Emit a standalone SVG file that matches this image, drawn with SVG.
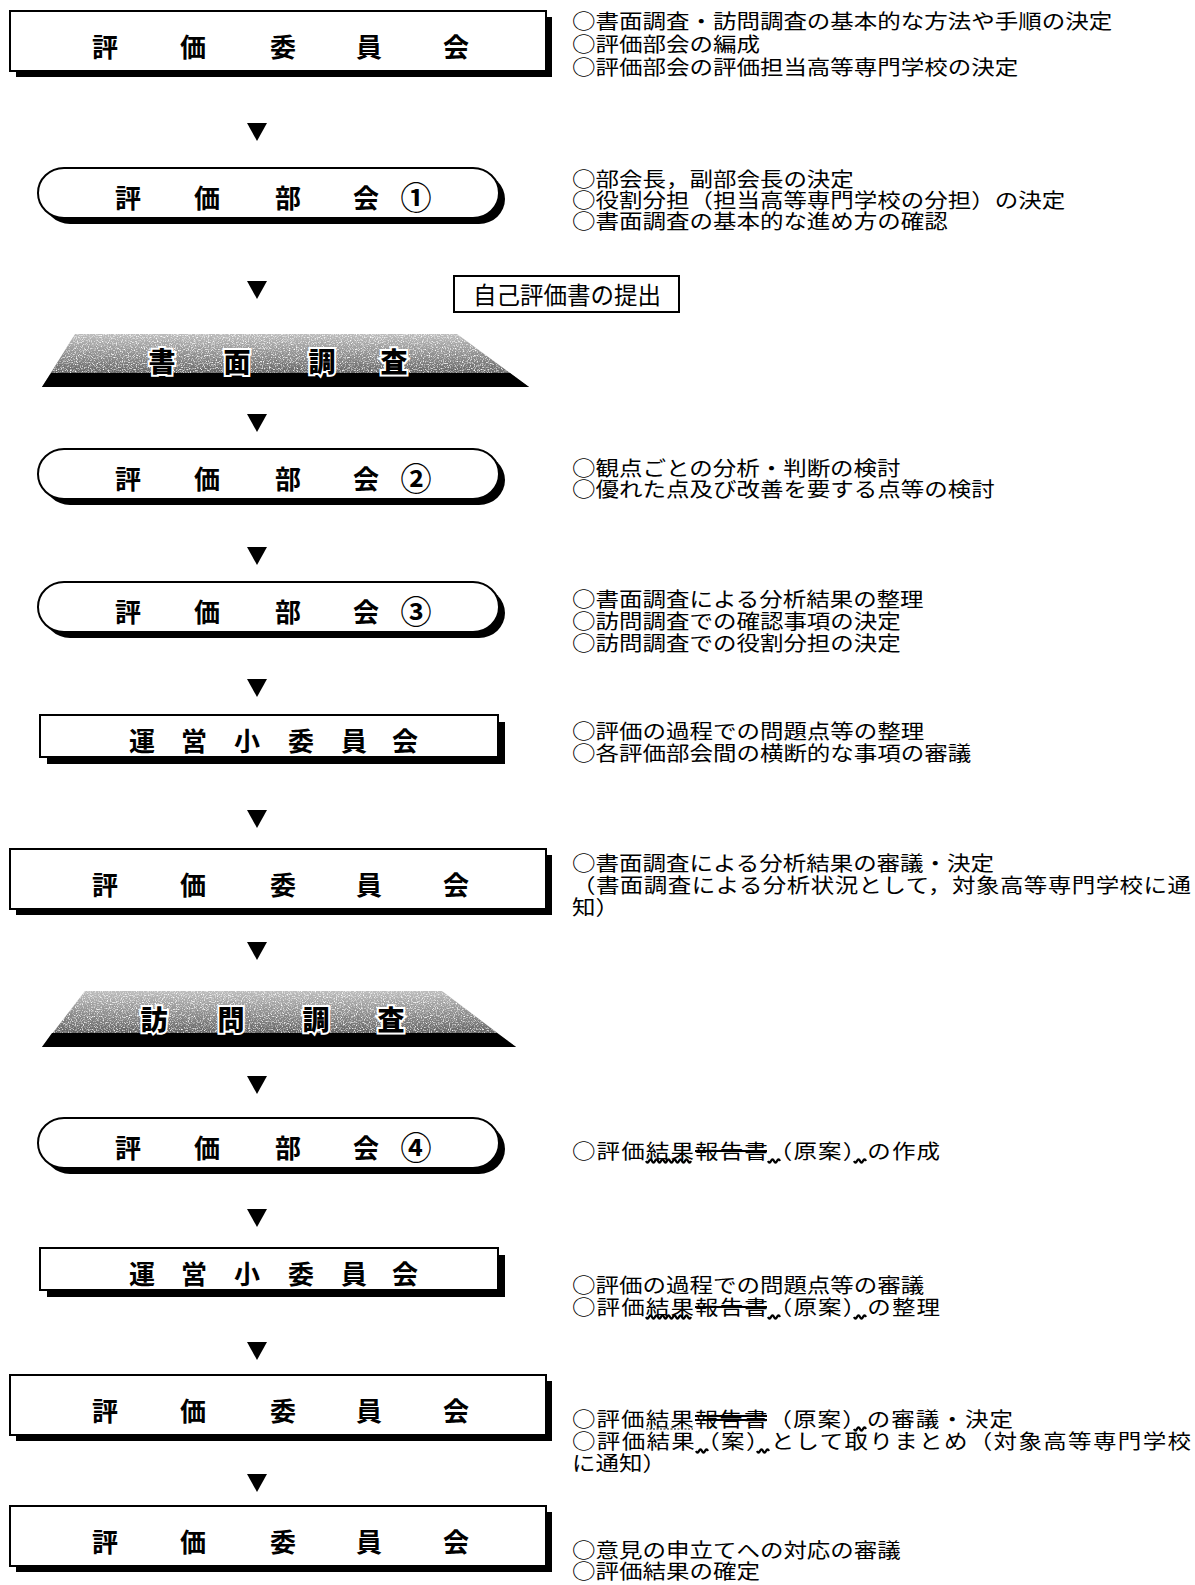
<svg xmlns="http://www.w3.org/2000/svg" width="1195" height="1585" viewBox="0 0 1195 1585">
<defs>
<linearGradient id="bannerGrad" x1="0" y1="0" x2="0" y2="1">
<stop offset="0" stop-color="#bdbdbd"/>
<stop offset="0.6" stop-color="#787878"/>
<stop offset="1" stop-color="#3c3c3c"/>
</linearGradient>
<filter id="speckle" x="0" y="0" width="1" height="1">
<feTurbulence type="fractalNoise" baseFrequency="0.85" numOctaves="2" seed="5" result="noise"/>
<feColorMatrix in="noise" type="matrix" values="0 0 0 0 1 0 0 0 0 1 0 0 0 0 1 3 0 0 0 -1.45" result="dots"/>
<feComposite in="dots" in2="SourceAlpha" operator="in"/>
</filter>
<polygon id="tri" points="-10,-9 10,-9 0,9"/>
</defs>
<style>
.box{fill:#fff;stroke:#000;stroke-width:2}
.shadow{fill:#000}
.lbl{font-family:"Noto Sans CJK JP","Noto Sans CJK SC",sans-serif;font-weight:700;font-size:26px;text-anchor:middle;dominant-baseline:central;fill:#000}
.num{font-size:31px;font-weight:700}
.note{font-family:"Noto Sans CJK JP","Noto Sans CJK SC",sans-serif;font-size:23.5px;dominant-baseline:central;fill:#000}
.ban{font-family:"Noto Sans CJK JP","Noto Sans CJK SC",sans-serif;font-weight:900;font-size:27px;text-anchor:middle;dominant-baseline:central;fill:#000;stroke:#fff;stroke-width:4;paint-order:stroke}
.wave{fill:none;stroke:#000;stroke-width:2.2}
.strike{stroke:#000;stroke-width:2}
.uline{stroke:#000;stroke-width:1.2;stroke-dasharray:2 1.5}
.arrow{fill:#000}
.band{fill:#000}
</style>
<rect width="1195" height="1585" fill="#fff"/>

<g id="connectors">
<use href="#tri" class="arrow" x="257" y="132"/>
<use href="#tri" class="arrow" x="257" y="290"/>
<use href="#tri" class="arrow" x="257" y="423"/>
<use href="#tri" class="arrow" x="257" y="556"/>
<use href="#tri" class="arrow" x="257" y="688"/>
<use href="#tri" class="arrow" x="257" y="819"/>
<use href="#tri" class="arrow" x="257" y="951"/>
<use href="#tri" class="arrow" x="257" y="1085"/>
<use href="#tri" class="arrow" x="257" y="1218"/>
<use href="#tri" class="arrow" x="257" y="1351"/>
<use href="#tri" class="arrow" x="257" y="1483"/>
</g>

<g id="n1-hyoka-iinkai">
<rect class="shadow" x="16" y="17" width="536" height="60"/>
<rect class="box" x="10" y="11" width="536" height="60"/>
<text class="lbl" x="105 193 283 369 456" y="45">評価委員会</text>
</g>
<g id="n1-notes">
<text class="note" transform="scale(1,0.85)"><tspan x="572" y="23.53">○書面調査・訪問調査の基本的な方法や手順の決定</tspan><tspan x="572" y="50.59">○評価部会の編成</tspan><tspan x="572" y="77.65">○評価部会の評価担当高等専門学校の決定</tspan></text>
</g>

<g id="n2-bukai-1">
<rect class="shadow" x="44" y="174" width="461" height="50" rx="26" ry="25"/>
<rect class="box" x="38" y="168" width="461" height="50" rx="26" ry="25"/>
<text class="lbl" x="128 207 288 366" y="196">評価部会<tspan class="num" x="416" y="195">①</tspan></text>
</g>
<g id="n2-notes">
<text class="note" transform="scale(1,0.85)"><tspan x="572" y="209.41">○部会長，副部会長の決定</tspan><tspan x="572" y="234.12">○役割分担（担当高等専門学校の分担）の決定</tspan><tspan x="572" y="258.82">○書面調査の基本的な進め方の確認</tspan></text>
</g>

<g id="n-jiko-hyokasho">
<rect class="box" x="454" y="276" width="225" height="36"/>
<text class="note" x="567" y="294" text-anchor="middle">自己評価書の提出</text>
</g>

<g id="n3-shomen-chosa">
<polygon points="75,334 457,334 529,387 42,387" fill="url(#bannerGrad)"/>
<polygon points="75,334 457,334 529,387 42,387" fill="#000" filter="url(#speckle)"/>
<polygon class="band" points="51,373 510,373 529,387 42,387"/>
<text class="ban" x="162 237 322 394" y="360">書面調査</text>
</g>

<g id="n4-bukai-2">
<rect class="shadow" x="44" y="455" width="461" height="50" rx="26" ry="25"/>
<rect class="box" x="38" y="449" width="461" height="50" rx="26" ry="25"/>
<text class="lbl" x="128 207 288 366" y="477">評価部会<tspan class="num" x="416" y="476">②</tspan></text>
</g>
<g id="n4-notes">
<text class="note" transform="scale(1,0.85)"><tspan x="572" y="549.41">○観点ごとの分析・判断の検討</tspan><tspan x="572" y="574.12">○優れた点及び改善を要する点等の検討</tspan></text>
</g>

<g id="n5-bukai-3">
<rect class="shadow" x="44" y="588" width="461" height="50" rx="26" ry="25"/>
<rect class="box" x="38" y="582" width="461" height="50" rx="26" ry="25"/>
<text class="lbl" x="128 207 288 366" y="610">評価部会<tspan class="num" x="416" y="609">③</tspan></text>
</g>
<g id="n5-notes">
<text class="note" transform="scale(1,0.85)"><tspan x="572" y="703.53">○書面調査による分析結果の整理</tspan><tspan x="572" y="729.41">○訪問調査での確認事項の決定</tspan><tspan x="572" y="755.29">○訪問調査での役割分担の決定</tspan></text>
</g>

<g id="n6-unei-1">
<rect class="shadow" x="47" y="722" width="458" height="42"/>
<rect class="box" x="40" y="715" width="458" height="42"/>
<text class="lbl" x="142 194 247 301 354 405" y="739">運営小委員会</text>
</g>
<g id="n6-notes">
<text class="note" transform="scale(1,0.85)"><tspan x="572" y="858.82">○評価の過程での問題点等の整理</tspan><tspan x="572" y="884.71">○各評価部会間の横断的な事項の審議</tspan></text>
</g>

<g id="n7-hyoka-iinkai">
<rect class="shadow" x="16" y="855" width="536" height="60"/>
<rect class="box" x="10" y="849" width="536" height="60"/>
<text class="lbl" x="105 193 283 369 456" y="883">評価委員会</text>
</g>
<g id="n7-notes">
<text class="note" transform="scale(1,0.85)"><tspan x="572" y="1014.12">○書面調査による分析結果の審議・決定</tspan><tspan x="572" y="1040" textLength="619" lengthAdjust="spacing">（書面調査による分析状況として，対象高等専門学校に通</tspan><tspan x="572" y="1065.88">知）</tspan></text>
</g>

<g id="n8-homon-chosa">
<polygon points="85,991 442,991 516,1047 42,1047" fill="url(#bannerGrad)"/>
<polygon points="85,991 442,991 516,1047 42,1047" fill="#000" filter="url(#speckle)"/>
<polygon class="band" points="52,1033 497,1033 516,1047 42,1047"/>
<text class="ban" x="154 231 316 391" y="1018">訪問調査</text>
</g>

<g id="n9-bukai-4">
<rect class="shadow" x="44" y="1124" width="461" height="50" rx="26" ry="25"/>
<rect class="box" x="38" y="1118" width="461" height="50" rx="26" ry="25"/>
<text class="lbl" x="128 207 288 366" y="1146">評価部会<tspan class="num" x="416" y="1145">④</tspan></text>
</g>
<g id="n9-notes">
<text class="note" transform="scale(1,0.85)" x="572" y="1352.94" textLength="368" lengthAdjust="spacing">○評価結果報告書（原案）の作成</text>
<line class="strike" x1="695" y1="1151" x2="767" y2="1151"/>
<path class="wave" d="M646,1161 q1.5,3.5 3,0 t3,0 t3,0 t3,0 t3,0 t3,0 t3,0 t3,0 t3,0 t3,0 t3,0 t3,0 t3,0 t3,0 t3,0"/>
<path class="wave" d="M768,1161 q1.5,3.5 3,0 t3,0 t3,0 t3,0"/>
<path class="wave" d="M854,1161 q1.5,3.5 3,0 t3,0 t3,0 t3,0"/>
</g>

<g id="n10-unei-2">
<rect class="shadow" x="47" y="1255" width="458" height="42"/>
<rect class="box" x="40" y="1248" width="458" height="42"/>
<text class="lbl" x="142 194 247 301 354 405" y="1272">運営小委員会</text>
</g>
<g id="n10-notes">
<text class="note" transform="scale(1,0.85)"><tspan x="572" y="1510.59">○評価の過程での問題点等の審議</tspan><tspan x="572" y="1536.47" textLength="368" lengthAdjust="spacing">○評価結果報告書（原案）の整理</tspan></text>
<line class="strike" x1="695" y1="1307" x2="767" y2="1307"/>
<path class="wave" d="M646,1317 q1.5,3.5 3,0 t3,0 t3,0 t3,0 t3,0 t3,0 t3,0 t3,0 t3,0 t3,0 t3,0 t3,0 t3,0 t3,0 t3,0"/>
<path class="wave" d="M768,1317 q1.5,3.5 3,0 t3,0 t3,0 t3,0"/>
<path class="wave" d="M854,1317 q1.5,3.5 3,0 t3,0 t3,0 t3,0"/>
</g>

<g id="n11-hyoka-iinkai">
<rect class="shadow" x="16" y="1381" width="536" height="60"/>
<rect class="box" x="10" y="1375" width="536" height="60"/>
<text class="lbl" x="105 193 283 369 456" y="1409">評価委員会</text>
</g>
<g id="n11-notes">
<text class="note" transform="scale(1,0.85)"><tspan x="572" y="1668.24" textLength="441" lengthAdjust="spacing">○評価結果報告書（原案）の審議・決定</tspan><tspan x="572" y="1694.12" textLength="619" lengthAdjust="spacing">○評価結果（案）として取りまとめ（対象高等専門学校</tspan><tspan x="572" y="1720">に通知）</tspan></text>
<line class="uline" x1="646" y1="1429" x2="693" y2="1429"/>
<line class="strike" x1="695" y1="1416" x2="767" y2="1416"/>
<line class="strike" x1="695" y1="1420" x2="767" y2="1420"/>
<path class="wave" d="M854,1429 q1.5,3.5 3,0 t3,0 t3,0 t3,0"/>
<path class="wave" d="M696,1451 q1.5,3.5 3,0 t3,0 t3,0 t3,0"/>
<path class="wave" d="M757,1451 q1.5,3.5 3,0 t3,0 t3,0 t3,0"/>
</g>

<g id="n12-hyoka-iinkai">
<rect class="shadow" x="16" y="1512" width="536" height="60"/>
<rect class="box" x="10" y="1506" width="536" height="60"/>
<text class="lbl" x="105 193 283 369 456" y="1540">評価委員会</text>
</g>
<g id="n12-notes">
<text class="note" transform="scale(1,0.85)"><tspan x="572" y="1822.35">○意見の申立てへの対応の審議</tspan><tspan x="572" y="1847.06">○評価結果の確定</tspan></text>
</g>
</svg>
